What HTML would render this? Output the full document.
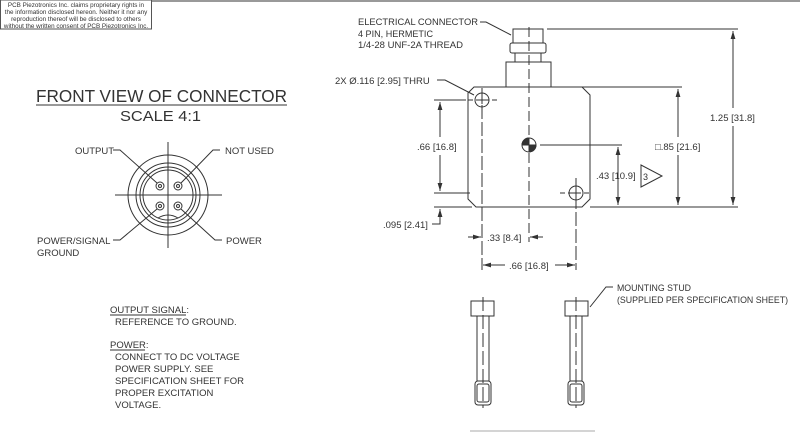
<!DOCTYPE html>
<html><head><meta charset="utf-8"><style>
html,body{margin:0;padding:0;background:#fff}
svg{display:block}
text{font-family:"Liberation Sans",sans-serif;fill:#333}
</style></head><body>
<svg width="800" height="432" viewBox="0 0 800 432" xmlns="http://www.w3.org/2000/svg">
<defs>
<marker id="a" viewBox="0 0 10 10" refX="10" refY="5" markerWidth="8" markerHeight="8" orient="auto-start-reverse" markerUnits="userSpaceOnUse"><path d="M0,2 L10,5 L0,8 z" fill="#333"/></marker>
</defs>
<line x1="0" y1="1" x2="800" y2="1" stroke="#999" stroke-width="2"/>
<rect x="0.5" y="0" width="151" height="29" fill="#fff" stroke="#555" stroke-width="1"/>
<g font-size="6.3" text-anchor="middle"><text x="76" y="7">PCB Piezotronics Inc. claims proprietary rights in</text><text x="76" y="14">the information disclosed hereon.  Neither it nor any</text><text x="76" y="21">reproduction thereof will be disclosed to others</text><text x="76" y="28">without the written consent of PCB Piezotronics Inc.</text></g>

<g stroke="#333" fill="none" stroke-width="1">
<line x1="36" y1="105" x2="287" y2="105"/>
<circle cx="168" cy="195" r="40"/><circle cx="168" cy="195" r="32"/><circle cx="168" cy="195" r="28"/><circle cx="168" cy="195" r="25"/>
<line x1="115" y1="195" x2="222" y2="195"/><line x1="168" y1="142" x2="168" y2="248"/>
<circle cx="160" cy="186" r="4"/><circle cx="160" cy="186" r="1.5"/><circle cx="178" cy="186" r="4"/><circle cx="178" cy="186" r="1.5"/>
<circle cx="160" cy="206" r="4"/><circle cx="160" cy="206" r="1.5"/><circle cx="178" cy="206" r="4"/><circle cx="178" cy="206" r="1.5"/>
<path d="M158 218 Q168 212 178 218"/>
<polyline points="113,150 120,150 157,183"/>
<polyline points="220,150 213,150 181,183"/>
<polyline points="113,240 120,240 157,209"/>
<polyline points="222,240 215,240 181,209"/>

<rect x="513" y="29" width="30" height="14"/>
<rect x="510" y="43" width="36" height="10" rx="2"/>
<rect x="515" y="53" width="26" height="9"/>
<rect x="506" y="62" width="45" height="25"/>
<path d="M474 87 L582 87 L590 95 L590 199 L582 207 L476 207 L468 199 L468 93 Z"/>
<circle cx="482" cy="100" r="7"/><path d="M478 100h8M482 96v8"/>
<circle cx="576" cy="193" r="7"/><path d="M572 193h8M576 189v8"/>
<circle cx="529" cy="145" r="7"/>
<path d="M529 145 L529 138 A7 7 0 0 0 522 145 Z M529 145 L529 152 A7 7 0 0 0 536 145 Z" fill="#333"/>
<line x1="529" y1="27" x2="529" y2="242" stroke-dasharray="10,4"/>
<line x1="468" y1="100" x2="497" y2="100" stroke-dasharray="5,3"/>
<line x1="482" y1="88" x2="482" y2="270" stroke-dasharray="14,3"/>
<line x1="560" y1="193" x2="590" y2="193" stroke-dasharray="5,3"/>
<line x1="576" y1="178" x2="576" y2="270" stroke-dasharray="14,3"/>
<polyline points="480,22 486,22 511,35"/>
<polyline points="437,80 445,80 474,95"/>
<line x1="547" y1="29" x2="738" y2="29"/><line x1="590" y1="207" x2="738" y2="207"/><line x1="555" y1="87" x2="682" y2="87"/>
<line x1="733" y1="31" x2="733" y2="108" marker-start="url(#a)"/><line x1="733" y1="126" x2="733" y2="205" marker-end="url(#a)"/>
<line x1="678" y1="89" x2="678" y2="137" marker-start="url(#a)"/><line x1="678" y1="155" x2="678" y2="205" marker-end="url(#a)"/>
<line x1="540" y1="145" x2="622" y2="145"/>
<line x1="618" y1="147" x2="618" y2="205" marker-start="url(#a)" marker-end="url(#a)"/>
<path d="M641 165 L641 187 L662 176 Z"/>
<line x1="434" y1="100" x2="466" y2="100"/><line x1="434" y1="193" x2="470" y2="193"/><line x1="434" y1="207" x2="472" y2="207"/>
<line x1="440" y1="102" x2="440" y2="137" marker-start="url(#a)"/><line x1="440" y1="155" x2="440" y2="191" marker-end="url(#a)"/>
<polyline points="432,224 440,224 440,209" marker-end="url(#a)"/>
<line x1="468" y1="237" x2="481" y2="237" marker-end="url(#a)"/><line x1="543" y1="237" x2="530" y2="237" marker-end="url(#a)"/>
<line x1="483" y1="265" x2="505" y2="265" marker-start="url(#a)"/><line x1="555" y1="265" x2="575" y2="265" marker-end="url(#a)"/>
<g>
<rect x="471" y="301" width="23" height="15"/><rect x="477" y="316" width="12" height="65"/>
<rect x="475" y="381" width="16" height="24" rx="3"/><rect x="477" y="384" width="12" height="18" rx="2"/>
<line x1="483" y1="297" x2="483" y2="408" stroke-dasharray="14,4"/>
</g>
<g>
<rect x="565" y="301" width="23" height="15"/><rect x="570" y="316" width="12" height="65"/>
<rect x="568" y="381" width="16" height="24" rx="3"/><rect x="570" y="384" width="12" height="18" rx="2"/>
<line x1="576" y1="297" x2="576" y2="408" stroke-dasharray="14,4"/>
</g>
<polyline points="613,287 606,287 590,307"/>
<line x1="470" y1="431" x2="595" y2="431" stroke="#aaa"/>
<line x1="110" y1="315" x2="186" y2="315"/><line x1="110" y1="350" x2="145" y2="350"/>
</g>

<text x="36" y="102" font-size="17.5" textLength="251" lengthAdjust="spacingAndGlyphs">FRONT VIEW OF CONNECTOR</text>
<text x="120" y="121" font-size="15" textLength="81" lengthAdjust="spacingAndGlyphs">SCALE 4:1</text>
<g font-size="9.5">
<text x="75" y="154">OUTPUT</text><text x="225" y="154">NOT USED</text>
<text x="37" y="244">POWER/SIGNAL</text><text x="37" y="256">GROUND</text><text x="226" y="244">POWER</text>
<text x="110" y="313">OUTPUT SIGNAL:</text><text x="115" y="325">REFERENCE TO GROUND.</text>
<text x="110" y="348">POWER:</text><text x="115" y="360">CONNECT TO DC VOLTAGE</text><text x="115" y="372">POWER SUPPLY.  SEE</text><text x="115" y="384">SPECIFICATION SHEET FOR</text><text x="115" y="396">PROPER EXCITATION</text><text x="115" y="408">VOLTAGE.</text>
<text x="358" y="25" textLength="120" lengthAdjust="spacingAndGlyphs">ELECTRICAL CONNECTOR</text>
<text x="358" y="37" textLength="75" lengthAdjust="spacingAndGlyphs">4 PIN, HERMETIC</text>
<text x="358" y="48" textLength="105" lengthAdjust="spacingAndGlyphs">1/4-28 UNF-2A THREAD</text>
<text x="335" y="84">2X Ø.116 [2.95] THRU</text>
<text x="417" y="150">.66 [16.8]</text>
<text x="383" y="228">.095 [2.41]</text>
<text x="487" y="241">.33 [8.4]</text>
<text x="509" y="269">.66 [16.8]</text>
<text x="596" y="179">.43 [10.9]</text>
<text x="643" y="180" font-size="9">3</text>
<text x="655" y="150">□.85 [21.6]</text>
<text x="710" y="121">1.25 [31.8]</text>
<text x="617" y="291" textLength="74" lengthAdjust="spacingAndGlyphs">MOUNTING STUD</text>
<text x="617" y="303" textLength="171" lengthAdjust="spacingAndGlyphs">(SUPPLIED PER SPECIFICATION SHEET)</text>
</g>
</svg>
</body></html>
